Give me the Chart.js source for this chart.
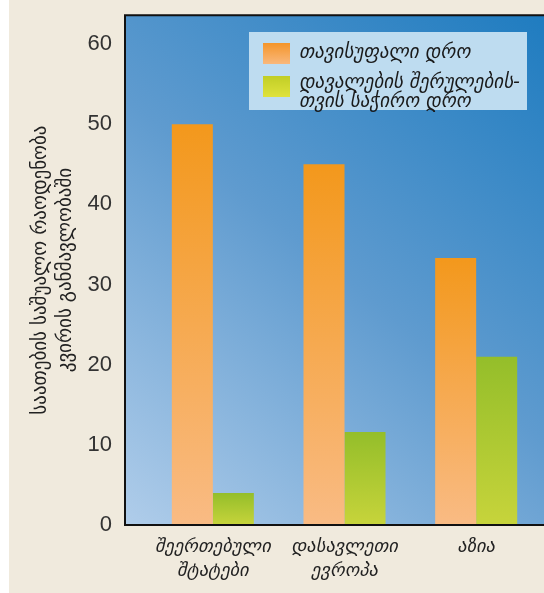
<!DOCTYPE html>
<html>
<head>
<meta charset="utf-8">
<script src="https://cdn.jsdelivr.net/npm/chart.js@4/dist/chart.umd.min.js"></script>
<style>
  html, body { margin: 0; padding: 0; background: #ffffff; }
  #wrap { position: absolute; left: 9px; top: 0; width: 535px; height: 593px; background: #f0eadd; }
  #c { display: block; }
  #legend { position: absolute; left: 240px; top: 32px; width: 278px; height: 78px; background: #bedcf0;
            font-family: "DejaVu Sans", sans-serif; font-style: italic; font-size: 19px; color: #1a1a1a; }
  .item { position: absolute; left: 14px; display: flex; align-items: flex-start; }
  .sw { width: 27px; height: 21px; margin-right: 9px; flex: none; }
  .txt { line-height: 18.5px; white-space: nowrap; }
</style>
</head>
<body>
<div id="wrap">
  <canvas id="c" width="535" height="593"></canvas>
  <div id="legend">
    <div class="item" style="top:11px"><div class="sw" style="background:linear-gradient(#f4952a,#f9b87c)"></div><div class="txt" id="l0" style="margin-top:-1px"></div></div>
    <div class="item" style="top:44px"><div class="sw" style="background:linear-gradient(#c1ce26,#dfe23c)"></div><div class="txt" id="l1" style="margin-top:-4px"></div></div>
  </div>
</div>
<script>
const categories = [["შეერთებული", "შტატები"], ["დასავლეთი", "ევროპა"], ["აზია"]];
const freeTime = [50, 45, 33.3];
const homeworkTime = [4, 11.6, 21];
const seriesNames = ["თავისუფალი დრო", ["დავალების შერულების-", "თვის საჭირო დრო"]];
const yTitle = ["საათების საშუალო რაოდენობა", "კვირის განმავლობაში"];
const yTicks = [0, 10, 20, 30, 40, 50, 60];

document.getElementById('l0').textContent = seriesNames[0];
document.getElementById('l1').innerHTML = seriesNames[1].map(s => s.replace(/&/g,'&amp;').replace(/</g,'&lt;')).join('<br>');

const AXIS_EXT = 22; // plot frame extends left of first category band

function barGradient(top, bottom) {
  return function(ctx) {
    const chart = ctx.chart;
    if (!chart.chartArea || !chart.scales.y || ctx.type !== 'data') return top;
    const ys = chart.scales.y;
    const v = ctx.parsed ? ctx.parsed.y : ctx.raw;
    const y0 = ys.getPixelForValue(v);
    const y1 = ys.getPixelForValue(0);
    if (!isFinite(y0) || !isFinite(y1) || y0 === y1) return top;
    const g = chart.ctx.createLinearGradient(0, y0, 0, y1);
    g.addColorStop(0, top);
    g.addColorStop(1, bottom);
    return g;
  };
}

const plotBg = {
  id: 'plotBg',
  beforeDraw(chart) {
    const {ctx, chartArea: a} = chart;
    const left = a.left - AXIS_EXT, right = chart.width;
    ctx.save();
    const g = ctx.createLinearGradient(left, a.bottom, right, a.top);
    g.addColorStop(0, '#b0cdea');
    g.addColorStop(0.5, '#5f9bcf');
    g.addColorStop(1, '#1f7cc0');
    ctx.fillStyle = g;
    ctx.fillRect(left, a.top, right - left, a.bottom - a.top);
    ctx.restore();
  },
  afterDatasetsDraw(chart) {
    const {ctx, chartArea: a} = chart;
    const left = a.left - AXIS_EXT, right = chart.width;
    ctx.save();
    ctx.strokeStyle = '#111';
    ctx.lineWidth = 2;
    ctx.beginPath();
    ctx.moveTo(left, a.top); ctx.lineTo(right, a.top);
    ctx.moveTo(left, a.top - 1); ctx.lineTo(left, a.bottom + 1);
    ctx.moveTo(left - 1, a.bottom); ctx.lineTo(right, a.bottom);
    ctx.stroke();
    ctx.restore();
  }
};

new Chart(document.getElementById('c'), {
  type: 'bar',
  data: {
    labels: categories,
    datasets: [
      { label: seriesNames[0], data: freeTime, backgroundColor: barGradient('#f3981c', '#f9bb84'), borderWidth: 0 },
      { label: seriesNames[1].join(' '), data: homeworkTime, backgroundColor: barGradient('#94be2a', '#c7d43b'), borderWidth: 0 }
    ]
  },
  options: {
    responsive: false,
    animation: false,
    devicePixelRatio: 1,
    layout: { padding: { left: 0, right: 2, top: 0, bottom: 0 } },
    categoryPercentage: 0.623,
    barPercentage: 1.0,
    plugins: { legend: { display: false }, tooltip: { enabled: false } },
    scales: {
      x: {
        grid: { display: false, drawTicks: false },
        border: { display: false },
        ticks: {
          color: '#222',
          font: { family: 'DejaVu Sans', style: 'italic', size: 18.5, lineHeight: 1.3 },
          padding: 10,
          maxRotation: 0, autoSkip: false
        },
        afterFit(scale) { scale.height = 68; }
      },
      y: {
        min: 0, max: 63.6,
        grid: { display: false, drawTicks: true, tickLength: 33, tickColor: 'rgba(0,0,0,0)' },
        border: { display: false },
        afterBuildTicks(scale) { scale.ticks = yTicks.map(v => ({ value: v })); },
        ticks: {
          color: '#333',
          font: { family: 'Liberation Sans', size: 22, lineHeight: 1.2 },
          padding: 2
        },
        title: {
          display: true,
          text: yTitle,
          color: '#222',
          font: { family: 'DejaVu Sans', size: 19, lineHeight: 1.35 },
          padding: { top: 19, bottom: 0 }
        },
        afterFit(scale) { scale.width = 138; }
      }
    }
  },
  plugins: [plotBg]
});
</script>
</body>
</html>
